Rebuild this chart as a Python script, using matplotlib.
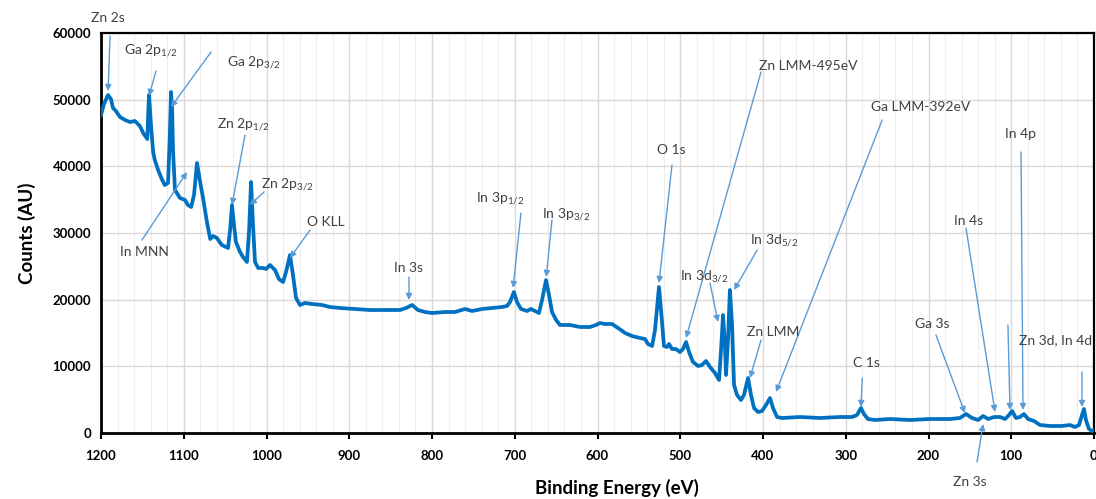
import matplotlib
matplotlib.use("Agg")
import matplotlib.pyplot as plt
from matplotlib.ticker import MultipleLocator

plt.rcParams['font.family'] = ['Lato', 'DejaVu Sans']
plt.rcParams['mathtext.fontset'] = 'custom'
plt.rcParams['mathtext.rm'] = 'Lato'
plt.rcParams['mathtext.default'] = 'regular'

# -----------------------------
# spectrum
# -----------------------------
energy = [1200, 1196.4, 1191.5, 1188, 1185.5, 1182, 1177, 1171, 1165, 1159, 1153, 1149, 1144, 1143,
          1142, 1139.6, 1137, 1135, 1131, 1126, 1123, 1119, 1117, 1115.4, 1114, 1113, 1110.6, 1104.5,
          1098.5, 1095, 1091, 1087.6, 1084, 1080, 1076.7, 1072, 1068, 1064.6, 1060, 1054, 1046.5,
          1044, 1041.7, 1039.3, 1036.9, 1032, 1028.4, 1023.6, 1021, 1018.7, 1016.3, 1013.9, 1010,
          1004, 1000.6, 995.8, 989.7, 985, 980, 976.4, 971.6, 968, 964.3, 959.5, 953.5, 945, 933,
          923.3, 911.2, 893, 875, 857, 838.7, 831.4, 824, 817, 808.4, 800, 784.3, 772.2, 760, 751.6,
          739.6, 727.5, 715.4, 709.4, 705.7, 701, 697.3, 692.4, 685.2, 680.4, 675.5, 670.7, 667,
          662.2, 658.6, 655, 650, 645.3, 633.2, 621, 609, 601.8, 597, 591, 582.5, 575.2, 566.7,
          558.3, 548.6, 542.6, 539, 534, 530.5, 525.7, 522, 519.7, 516, 513.6, 510, 505.2, 500.3,
          496.7, 493, 489.4, 484.6, 478.5, 473.7, 468.9, 464, 458, 453.1, 450.7, 448.3, 446, 444.7,
          442.3, 440, 437.4, 435, 431.4, 426.6, 423, 418.1, 414.5, 410.9, 406, 401.2, 396.4, 391.5,
          387.9, 383, 377, 355.3, 331, 306.9, 292.4, 286.4, 281.6, 278, 273.2, 264.6, 246.5, 222.3,
          198.2, 174, 162, 154.6, 147.4, 140, 134, 128, 120.8, 113.6, 107.5, 102.7, 99, 94.3, 89.4,
          84.6, 79.7, 72.5, 65.2, 53.1, 38.6, 29, 23, 18.1, 14.5, 12.1, 9.7, 6.1, 2.4, 0]
counts = [47700, 49350, 50700, 50100, 48750, 48300, 47400, 46950, 46650, 46800, 46050, 45000, 44100, 47700,
          50700, 46200, 42150, 40950, 39450, 37950, 37200, 37500, 43950, 51150, 48450, 42450, 36450, 35250,
          34950, 34200, 33900, 35700, 40500, 37500, 35250, 31650, 29100, 29550, 29250, 28200, 27750,
          30450, 34200, 31200, 28650, 27150, 26400, 25650, 30450, 37650, 31200, 25650, 24750,
          24750, 24600, 25200, 24450, 23100, 22650, 24150, 26700, 23700, 20250, 19200, 19500, 19350, 19200,
          18900, 18750, 18600, 18450, 18450, 18450, 18750, 19200, 18450, 18150, 18000, 18150, 18150, 18600, 18300,
          18600, 18750, 18900, 19050, 19650, 21150, 19650, 18600, 18300, 18600, 18300, 18000, 19950,
          22950, 20700, 18150, 16950, 16200, 16200, 15900, 15900, 16200, 16500, 16350, 16350, 15750, 15000,
          14550, 14250, 14100, 13350, 13050, 15450, 21900, 16650, 13050, 12900, 13350, 12600, 12600, 12150,
          12600, 13650, 12150, 10650, 10050, 10200, 10800, 9900, 9000, 7950, 12450, 17700, 13200, 8700,
          13950, 21450, 16200, 7200, 5700, 4950, 5700, 8250, 5700, 3750, 3150, 3300, 4200, 5250,
          3750, 2400, 2250, 2400, 2250, 2400, 2400, 2700, 3750, 2850, 2100, 1950, 2100, 1950,
          2100, 2100, 2250, 2850, 2250, 1950, 2550, 2100, 2400, 2400, 2100, 2700, 3300, 2250, 2400,
          2850, 2100, 1800, 1200, 1050, 1050, 1200, 900, 1200, 2700, 3600, 1950, 600, 300, 450]

# -----------------------------
# peak labels: text, text position, arrow tail, arrow head
# -----------------------------
labels = ["Zn 2s", "Ga 2p$_{1/2}$", "Ga 2p$_{3/2}$", "Zn 2p$_{1/2}$", "Zn 2p$_{3/2}$", "In MNN",
          "O KLL", "In 3s", "In 3p$_{1/2}$", "In 3p$_{3/2}$", "O 1s", "Zn LMM-495eV", "Ga LMM-392eV",
          "In 4p", "In 4s", "In 3d$_{3/2}$", "In 3d$_{5/2}$", "Zn LMM", "C 1s", "Ga 3s", "Zn 3s",
          "", "Zn 3d, In 4d"]
label_xy = [(1191.5, 62300), (1139.6, 57300), (1015, 55600), (1028.4, 46300), (975, 37300),
            (1147, 27100), (928, 31700), (829, 24800), (718, 35100), (638, 32800), (511, 42400),
            (345.6, 55100), (209, 48900), (89.4, 44800), (152, 31800), (471, 23500), (387, 28800),
            (388, 15200), (275.5, 10500), (195.8, 16400), (149.8, -7300), (0, 0), (90.5, 14000)]
tail_xy = [(1189, 59550), (1133.5, 54300), (1067, 57150), (1026, 44700), (1003, 36150),
           (1150.5, 28950), (947.4, 30450), (827.8, 23400), (692.5, 33000), (655, 31950), (510, 40200),
           (402.4, 54150), (256, 46950), (88.2, 42150), (154.7, 30750), (464, 22500), (407, 27450),
           (402.4, 13950), (280, 8250), (191, 14700), (141.4, -4350), (104, 16200), (14.5, 9150)]
head_xy = [(1191.5, 51300), (1142, 50550), (1115.4, 48900), (1041.7, 34200), (1020, 34200),
           (1096, 39150), (971.6, 26250), (827.8, 19950), (702, 21750), (662, 23400), (525.7, 22500),
           (493, 14250), (384.3, 6150), (85.8, 3450), (119.6, 3150), (454.4, 16650), (435, 21450),
           (415.7, 8250), (281.6, 3900), (156, 3000), (134, 1350), (101.5, 3450), (14.5, 3900)]

fig = plt.figure(figsize=(10.96, 4.99), dpi=100)
ax = fig.add_axes([101 / 1096, 1 - 433 / 499, 993 / 1096, 400 / 499])

ax.plot(energy, counts, color="#0070C0", lw=2.7, solid_joinstyle="round", zorder=3)

ax.set_xlim(1200, 0)
ax.set_ylim(0, 60000)
ax.xaxis.set_major_locator(MultipleLocator(100))
ax.xaxis.set_minor_locator(MultipleLocator(20))
ax.yaxis.set_major_locator(MultipleLocator(10000))

ax.grid(which="major", color="#D9D9D9", lw=1.0, zorder=0)
ax.grid(which="minor", axis="x", color="#EDEDED", lw=0.8, zorder=0)
ax.set_axisbelow(True)

for s in ax.spines.values():
    s.set_color("black")
    s.set_linewidth(1.6)
ax.spines["left"].set_linewidth(2)
ax.spines["bottom"].set_linewidth(2)

ax.tick_params(axis="x", which="major", direction="out", length=4, width=1.5, pad=8)
ax.tick_params(axis="x", which="minor", length=0)
ax.tick_params(axis="y", length=0, pad=7)
for lab in ax.get_xticklabels() + ax.get_yticklabels():
    lab.set_fontweight("bold")
    lab.set_fontsize(9.5)

ax.set_ylabel("Counts (AU)", fontsize=13.5, fontweight="bold", labelpad=12)
fig.text(617 / 1096, 1 - 488 / 499, "Binding Energy (eV)", fontsize=13.5, fontweight="bold",
         ha="center", va="center")

for text, txy, t0, t1 in zip(labels, label_xy, tail_xy, head_xy):
    if text:
        ha = "left" if text.startswith("Zn 3d") else "center"
        ax.text(txy[0], txy[1], text, fontsize=10, color="#404040", ha=ha, va="center",
                clip_on=False)
    ax.annotate("", xy=t1, xytext=t0, annotation_clip=False,
                arrowprops=dict(arrowstyle="-|>", color="#5B9BD5", lw=1.0,
                                mutation_scale=9, shrinkA=0, shrinkB=0))

fig.savefig("out.png", dpi=100)
